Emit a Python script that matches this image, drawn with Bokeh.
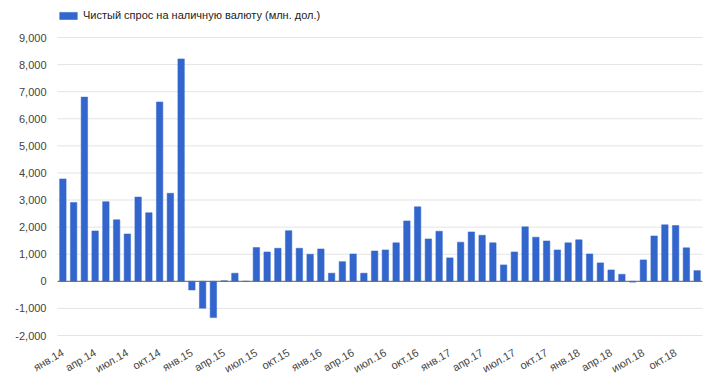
from bokeh.plotting import figure
from bokeh.models import (ColumnDataSource, FixedTicker, NumeralTickFormatter,
                          Range1d, Legend, LegendItem)
from bokeh.embed import file_html
from bokeh.resources import INLINE
import math

months_ru = ["янв.", "фев.", "мар.", "апр.", "май.", "июн.",
             "июл.", "авг.", "сен.", "окт.", "ноя.", "дек."]
years = ["14", "15", "16", "17", "18"]

values = [
    # 2014
    3780, 2910, 6800, 1860, 2940, 2270, 1750, 3110, 2530, 6620, 3250, 8210,
    # 2015
    -320, -990, -1340, 20, 300, 0, 1245, 1085, 1220, 1870, 1220, 1000,
    # 2016
    1195, 300, 725, 1010, 300, 1120, 1160, 1420, 2230, 2750, 1565, 1850,
    # 2017
    865, 1445, 1825, 1700, 1420, 605, 1085, 2010, 1630, 1490, 1160, 1420,
    # 2018
    1530, 1010, 680, 420, 260, -30, 790, 1675, 2085, 2060, 1235, 395,
]

labels = [m + y for y in years for m in months_ru]
series_name = "Чистый спрос на наличную валюту (млн. дол.)"
y_ticks = list(range(-2000, 10000, 1000))

n = len(values)
x = list(range(n))
src = ColumnDataSource(dict(x=x, v=values, lab=labels))

FONT = "Liberation Sans"

# The frame fills the whole figure; margins are strips inside the data ranges.
W, H = 712, 374
LEFT_PX, RIGHT_PX = 57, 10       # plot-area edges from the figure sides
TOP_PX, BOTTOM_PX = 37, 39
x_lo, x_hi = -0.5, n - 0.5
y_lo, y_hi = -2000, 9000
xpp = (x_hi - x_lo) / (W - LEFT_PX - RIGHT_PX)
ypp = (y_hi - y_lo) / (H - TOP_PX - BOTTOM_PX)

p = figure(width=W, height=H, output_backend="svg", toolbar_location=None,
           x_range=Range1d(x_lo - LEFT_PX * xpp, x_hi + RIGHT_PX * xpp),
           y_range=Range1d(y_lo - BOTTOM_PX * ypp, y_hi + TOP_PX * ypp))
p.min_border_left = 0
p.min_border_right = 0
p.min_border_top = 0
p.min_border_bottom = 0
p.outline_line_color = None
p.background_fill_color = "white"
p.xgrid.visible = False
p.ygrid.visible = False

# horizontal gridlines across the plot area only
p.segment(x0=[x_lo] * len(y_ticks), x1=[x_hi] * len(y_ticks), y0=y_ticks, y1=y_ticks,
          line_color="#e4e4e4", line_width=1, level="underlay")

r = p.vbar(x="x", top="v", width=0.6, source=src, fill_color="#3366cc",
           line_color="#3366cc", line_width=0.5)

# baseline at zero
p.segment(x0=[x_lo], x1=[x_hi], y0=[0], y1=[0], line_color="#666666",
          line_width=1, level="overlay")

# y axis pinned to the left edge of the plot area
p.yaxis.fixed_location = x_lo
p.yaxis.ticker = FixedTicker(ticks=y_ticks)
p.yaxis.formatter = NumeralTickFormatter(format="0,0")
p.yaxis.axis_line_color = None
p.yaxis.major_tick_line_color = None
p.yaxis.minor_tick_line_color = None
p.yaxis.major_tick_out = 0
p.yaxis.major_tick_in = 0
p.yaxis.minor_tick_out = 0
p.yaxis.major_label_text_font = FONT
p.yaxis.major_label_text_font_size = "11px"
p.yaxis.major_label_text_color = "#444444"
p.yaxis.major_label_standoff = 11

# x axis pinned to the -2,000 line
p.xaxis.fixed_location = y_lo
p.xaxis.ticker = FixedTicker(ticks=list(range(0, n, 3)))
p.xaxis.major_label_overrides = {i: labels[i] for i in range(n)}
p.xaxis.axis_line_color = None
p.xaxis.major_tick_line_color = None
p.xaxis.minor_tick_line_color = None
p.xaxis.major_tick_out = 0
p.xaxis.major_tick_in = 0
p.xaxis.minor_tick_out = 0
p.xaxis.major_label_text_font = FONT
p.xaxis.major_label_text_font_size = "11px"
p.xaxis.major_label_text_color = "#444444"
p.xaxis.major_label_orientation = math.pi / 6
p.xaxis.major_label_standoff = 16

legend = Legend(items=[LegendItem(label=series_name, renderers=[r])],
                location=(LEFT_PX, H - 21.5), orientation="horizontal",
                glyph_width=22, glyph_height=9, label_height=13,
                label_standoff=4, padding=0, margin=0, spacing=0,
                border_line_color=None, background_fill_alpha=0,
                label_text_font=FONT, label_text_font_size="11px",
                label_text_color="#222222")
p.add_layout(legend)

open("out.html", "w").write(file_html(p, INLINE))
